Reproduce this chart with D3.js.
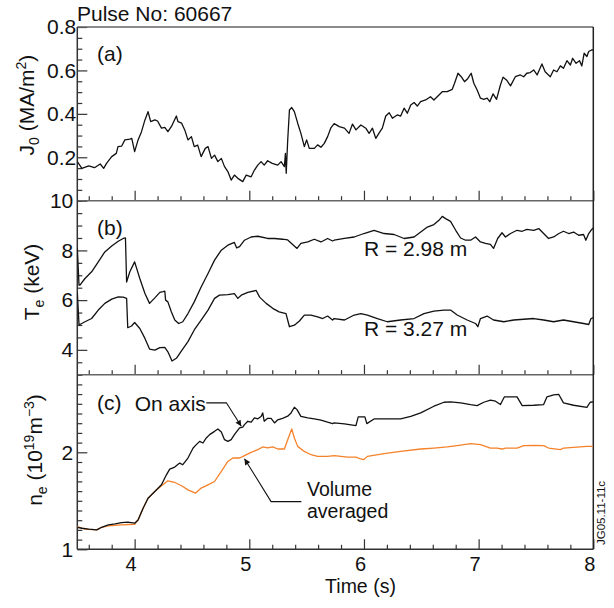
<!DOCTYPE html>
<html>
<head>
<meta charset="utf-8">
<script src="https://cdn.jsdelivr.net/npm/d3@7"></script>
<style>
html,body{margin:0;padding:0;background:#fff;}
svg text{font-family:"Liberation Sans",Arial,Helvetica,sans-serif;fill:#111;}
</style>
</head>
<body>
<svg id="chart" width="614" height="608"></svg>
<script>
// ---------- DATA ----------
const xTickLabels = [4, 5, 6, 7, 8];
const j0TickLabels = [0.2, 0.4, 0.6, 0.8];
const teTickLabels = [4, 6, 8, 10];
const neTickLabels = [1, 2];

// (a) central current density J0 (MA/m^2)
const j0Time = [3.50,3.54,3.60,3.65,3.70,3.73,3.755,3.80,3.84,3.855,3.886,3.915,3.958,3.975,4.00,4.03,4.06,4.09,4.117,4.14,4.176,4.20,4.234,4.263,4.29,4.32,4.364,4.378,4.41,4.437,4.465,4.495,4.52,4.55,4.58,4.616,4.64,4.67,4.697,4.726,4.756,4.784,4.813,4.842,4.87,4.90,4.943,4.973,5.016,5.045,5.074,5.103,5.13,5.16,5.20,5.248,5.277,5.306,5.315,5.322,5.335,5.35,5.37,5.393,5.422,5.45,5.48,5.50,5.523,5.567,5.596,5.625,5.654,5.683,5.71,5.74,5.785,5.83,5.87,5.90,5.93,5.973,6.016,6.045,6.074,6.103,6.13,6.16,6.19,6.22,6.248,6.29,6.32,6.35,6.378,6.408,6.437,6.465,6.494,6.538,6.58,6.61,6.654,6.683,6.726,6.77,6.79,6.82,6.848,6.877,6.906,6.935,6.958,6.987,7.016,7.045,7.074,7.097,7.126,7.156,7.19,7.213,7.243,7.278,7.32,7.364,7.393,7.42,7.45,7.48,7.51,7.552,7.58,7.625,7.654,7.683,7.713,7.74,7.77,7.80,7.82,7.85,7.88,7.90,7.92,7.944,7.96,7.985,8.0];
const j0Vals = [0.18,0.149,0.16,0.152,0.169,0.149,0.172,0.203,0.218,0.249,0.251,0.28,0.284,0.287,0.226,0.28,0.318,0.372,0.41,0.364,0.372,0.367,0.334,0.338,0.318,0.341,0.39,0.364,0.357,0.326,0.28,0.295,0.249,0.256,0.203,0.241,0.249,0.195,0.21,0.18,0.195,0.157,0.134,0.095,0.118,0.103,0.088,0.118,0.11,0.141,0.164,0.18,0.164,0.184,0.172,0.164,0.18,0.157,0.218,0.126,0.28,0.418,0.429,0.41,0.357,0.31,0.249,0.28,0.241,0.241,0.257,0.246,0.264,0.295,0.334,0.355,0.341,0.334,0.31,0.353,0.326,0.349,0.334,0.31,0.334,0.287,0.31,0.334,0.39,0.405,0.38,0.395,0.39,0.426,0.403,0.441,0.452,0.436,0.456,0.464,0.479,0.464,0.487,0.502,0.502,0.513,0.541,0.587,0.571,0.548,0.563,0.587,0.541,0.51,0.472,0.467,0.472,0.456,0.492,0.467,0.533,0.569,0.556,0.529,0.571,0.579,0.571,0.587,0.59,0.602,0.579,0.63,0.594,0.571,0.602,0.594,0.621,0.61,0.645,0.625,0.656,0.633,0.645,0.621,0.679,0.664,0.687,0.694,0.695];

// (b) electron temperature Te (keV) at R = 2.98 m
const te298Time = [3.50,3.515,3.523,3.567,3.625,3.683,3.74,3.80,3.857,3.90,3.92,3.93,3.958,4.00,4.045,4.09,4.13,4.176,4.22,4.248,4.263,4.27,4.29,4.32,4.35,4.384,4.42,4.465,4.52,4.58,4.64,4.697,4.756,4.813,4.87,4.89,4.915,4.958,5.016,5.074,5.16,5.22,5.29,5.335,5.378,5.416,5.45,5.51,5.567,5.625,5.683,5.726,5.74,5.83,5.915,6.0,6.088,6.176,6.263,6.35,6.437,6.495,6.553,6.61,6.654,6.683,6.712,6.755,6.80,6.843,6.886,6.93,6.973,7.016,7.06,7.103,7.13,7.166,7.204,7.234,7.278,7.335,7.38,7.42,7.48,7.524,7.567,7.61,7.654,7.70,7.74,7.785,7.828,7.872,7.915,7.935,7.96,7.98,8.0];
const te298Vals = [8.1,6.6,6.6,6.87,7.14,7.54,7.94,8.18,8.37,8.48,8.5,6.73,7.14,7.54,6.87,6.27,5.87,6.09,6.31,6.34,6.36,6.0,5.93,5.53,5.2,5.06,5.13,5.46,5.93,6.53,7.07,7.61,8.01,8.21,8.32,8.1,8.15,8.41,8.54,8.57,8.48,8.48,8.45,8.42,8.24,8.08,8.28,8.34,8.45,8.34,8.48,8.38,8.41,8.48,8.54,8.68,8.81,8.68,8.64,8.48,8.54,8.74,8.94,9.04,9.21,9.37,9.28,9.17,8.81,8.5,8.41,8.41,8.54,8.34,8.28,8.24,8.08,8.48,8.71,8.54,8.68,8.81,8.77,8.85,8.81,8.88,8.68,8.48,8.54,8.68,8.77,8.68,8.74,8.61,8.64,8.41,8.68,8.81,8.9];

// (b) electron temperature Te (keV) at R = 3.27 m
const te327Time = [3.50,3.515,3.523,3.567,3.625,3.683,3.74,3.80,3.857,3.90,3.93,3.94,3.973,4.00,4.045,4.09,4.13,4.176,4.22,4.263,4.29,4.326,4.364,4.41,4.465,4.52,4.58,4.64,4.697,4.74,4.813,4.87,4.90,4.93,4.987,5.06,5.09,5.147,5.204,5.26,5.32,5.35,5.393,5.437,5.48,5.538,5.596,5.64,5.683,5.726,5.74,5.83,5.915,5.973,6.03,6.117,6.204,6.32,6.437,6.523,6.61,6.698,6.755,6.813,6.90,6.973,6.993,7.016,7.074,7.13,7.22,7.306,7.393,7.48,7.567,7.654,7.74,7.828,7.915,7.96,7.98,8.0];
const te327Vals = [6.31,5.02,5.02,5.13,5.26,5.6,5.87,6.04,6.13,6.12,6.07,4.89,4.96,5.1,4.86,4.46,4.03,3.99,4.09,4.1,3.92,3.55,3.66,3.97,4.33,4.8,5.2,5.6,6.07,6.2,6.22,6.26,6.07,6.2,6.31,6.39,6.12,5.87,5.67,5.53,5.46,4.93,4.99,5.16,5.4,5.4,5.33,5.26,5.36,5.2,5.26,5.2,5.4,5.46,5.4,5.26,5.13,5.2,5.26,5.46,5.56,5.6,5.6,5.4,5.2,5.06,4.93,5.26,5.36,5.2,5.13,5.2,5.23,5.26,5.2,5.13,5.2,5.13,5.06,5.02,5.26,5.3];

// (c) electron density ne (10^19 m^-3), on axis
const neAxisTime = [3.50,3.54,3.60,3.67,3.712,3.77,3.83,3.886,3.94,4.00,4.03,4.074,4.117,4.176,4.234,4.277,4.306,4.35,4.393,4.42,4.465,4.51,4.538,4.567,4.596,4.625,4.654,4.697,4.726,4.756,4.784,4.813,4.842,4.87,4.915,4.943,4.958,4.987,5.016,5.045,5.074,5.103,5.117,5.13,5.16,5.19,5.22,5.248,5.29,5.335,5.364,5.393,5.416,5.45,5.51,5.567,5.625,5.683,5.726,5.74,5.83,5.93,5.95,6.008,6.025,6.088,6.176,6.32,6.408,6.495,6.61,6.698,6.755,6.843,6.93,6.987,7.045,7.103,7.147,7.19,7.225,7.25,7.335,7.38,7.48,7.567,7.596,7.654,7.698,7.74,7.828,7.944,7.973,8.0];
const neAxisVals = [1.227,1.217,1.207,1.2,1.227,1.251,1.262,1.275,1.28,1.269,1.303,1.424,1.527,1.596,1.665,1.768,1.827,1.848,1.889,1.872,1.941,2.044,2.079,2.113,2.096,2.148,2.182,2.216,2.241,2.21,2.13,2.113,2.13,2.182,2.251,2.26,2.285,2.32,2.31,2.355,2.345,2.37,2.406,2.32,2.35,2.35,2.303,2.335,2.35,2.372,2.406,2.464,2.44,2.371,2.355,2.345,2.332,2.31,2.296,2.303,2.293,2.275,2.365,2.365,2.296,2.344,2.344,2.344,2.371,2.406,2.475,2.516,2.52,2.51,2.492,2.482,2.516,2.537,2.527,2.492,2.572,2.572,2.572,2.482,2.485,2.492,2.572,2.592,2.598,2.51,2.485,2.464,2.516,2.52];

// (c) electron density ne (10^19 m^-3), volume averaged
const neVolTime = [3.50,3.567,3.67,3.712,3.77,3.886,4.00,4.03,4.074,4.117,4.176,4.234,4.29,4.35,4.41,4.465,4.53,4.58,4.64,4.697,4.756,4.813,4.857,4.915,4.958,5.016,5.074,5.117,5.16,5.204,5.248,5.306,5.335,5.37,5.393,5.422,5.48,5.538,5.596,5.683,5.74,5.857,5.93,5.973,5.996,6.03,6.176,6.32,6.495,6.61,6.726,6.843,6.93,7.016,7.103,7.16,7.204,7.234,7.335,7.393,7.48,7.567,7.61,7.713,7.74,7.828,7.944,8.0];
const neVolVals = [1.234,1.207,1.2,1.227,1.241,1.251,1.258,1.303,1.424,1.527,1.596,1.655,1.706,1.689,1.655,1.613,1.579,1.631,1.665,1.699,1.803,1.906,1.941,1.941,1.965,1.999,2.027,2.055,2.045,2.055,2.034,2.034,2.13,2.241,2.148,2.061,2.009,1.975,1.958,1.958,1.965,1.951,1.951,1.931,1.924,1.958,1.986,2.009,2.034,2.044,2.055,2.075,2.089,2.079,2.044,2.044,2.034,2.044,2.044,2.068,2.072,2.068,2.044,2.027,2.044,2.051,2.061,2.061];

// ---------- LAYOUT ----------
const svg = d3.select("#chart");
const x = d3.scaleLinear().domain([3.5, 8]).range([77.3, 593.3]);
const yA = d3.scaleLinear().domain([0, 0.8]).range([200.7, 27]);
const yB = d3.scaleLinear().domain([3, 10]).range([374.7, 200.7]);
const yC = d3.scaleLinear().domain([1, 2.8]).range([549.3, 374.7]);

const FS = 21;
const axisColor = "#333";
const frameColor = "#666";

function zip(t, v) { return t.map((d, i) => [d, v[i]]); }

function panel(y, majorLabels, minorStep, fmt, labelPad) {
  const [y0, y1] = y.domain();
  const minor = d3.range(y0, y1 + 1e-9, minorStep).map(d => +d.toFixed(3))
    .filter(d => !majorLabels.some(m => Math.abs(m - d) < 1e-6));
  const xMinor = d3.range(3.6, 8.0, 0.2).map(d => +d.toFixed(2))
    .filter(d => !xTickLabels.some(m => Math.abs(m - d) < 1e-6));
  const gp = svg.append("g");
  gp.append("g").attr("transform", `translate(${x.range()[0]},0)`)
    .call(d3.axisLeft(y).tickValues(minor).tickSize(-5).tickSizeOuter(0).tickFormat(""))
    .call(g => g.select(".domain").remove())
    .call(g => g.selectAll("line").attr("stroke", axisColor).attr("stroke-width", 1.2));
  gp.append("g").attr("transform", `translate(${x.range()[0]},0)`)
    .call(d3.axisLeft(y).tickValues(majorLabels).tickSize(-10).tickSizeOuter(0).tickPadding(labelPad).tickFormat(fmt))
    .call(g => g.select(".domain").remove())
    .call(g => g.selectAll("line").attr("stroke", axisColor).attr("stroke-width", 1.2))
    .call(g => g.selectAll("text").attr("font-size", FS).attr("fill", "#111")
      .attr("font-family", '"Liberation Sans",Arial,sans-serif'));
  gp.append("g").attr("transform", `translate(0,${y.range()[0]})`)
    .call(d3.axisBottom(x).tickValues(xMinor).tickSize(-4.5).tickSizeOuter(0).tickFormat(""))
    .call(g => g.select(".domain").remove())
    .call(g => g.selectAll("line").attr("stroke", axisColor).attr("stroke-width", 1.2));
  gp.append("g").attr("transform", `translate(0,${y.range()[0]})`)
    .call(d3.axisBottom(x).tickValues(xTickLabels).tickSize(-10).tickSizeOuter(0).tickFormat(""))
    .call(g => g.select(".domain").remove())
    .call(g => g.selectAll("line").attr("stroke", axisColor).attr("stroke-width", 1.2));
}

panel(yA, j0TickLabels, 0.05, d3.format(".1f"), 1);
panel(yB, teTickLabels, 0.5, d3.format("d"), 4);
panel(yC, neTickLabels, 0.1, d3.format("d"), 4);

// frame lines
const [xl, xr] = x.range();
svg.append("line").attr("x1", xl).attr("x2", xr).attr("y1", yA.range()[1]).attr("y2", yA.range()[1])
  .attr("stroke", frameColor).attr("stroke-width", 1.5);
[yA.range()[0], yB.range()[0], yC.range()[0]].forEach(yy => {
  svg.append("line").attr("x1", xl).attr("x2", xr).attr("y1", yy).attr("y2", yy)
    .attr("stroke", yy === yC.range()[0] ? axisColor : frameColor).attr("stroke-width", 1.5);
});
svg.append("line").attr("x1", xl).attr("x2", xl).attr("y1", yA.range()[1]).attr("y2", yC.range()[0])
  .attr("stroke", axisColor).attr("stroke-width", 1.5);
svg.append("line").attr("x1", xr).attr("x2", xr).attr("y1", yA.range()[1]).attr("y2", yC.range()[0])
  .attr("stroke", "#222").attr("stroke-width", 1.5);

// x tick labels
svg.append("g").selectAll("text").data(xTickLabels).join("text")
  .attr("x", d => x(d) - 3.5).attr("y", 571).attr("text-anchor", "middle")
  .attr("font-size", 20).text(d => d);
svg.append("text").attr("x", 360.5).attr("y", 593).attr("text-anchor", "middle")
  .attr("font-size", 19.5).text("Time (s)");

// data lines
const clipId = "plotclip";
svg.append("clipPath").attr("id", clipId).append("rect")
  .attr("x", xl).attr("y", yA.range()[1]).attr("width", xr - xl).attr("height", yC.range()[0] - yA.range()[1]);
function drawLine(t, v, y, color) {
  svg.append("path").datum(zip(t, v))
    .attr("clip-path", `url(#${clipId})`)
    .attr("fill", "none").attr("stroke", color).attr("stroke-width", 1.3)
    .attr("stroke-linejoin", "round")
    .attr("d", d3.line().x(d => x(d[0])).y(d => y(d[1])));
}
drawLine(j0Time, j0Vals, yA, "#111");
drawLine(te298Time, te298Vals, yB, "#111");
drawLine(te327Time, te327Vals, yB, "#111");
drawLine(neVolTime, neVolVals, yC, "#f5822a");
drawLine(neAxisTime, neAxisVals, yC, "#111");

// title and panel letters
svg.append("text").attr("x", 77).attr("y", 20.5).attr("font-size", FS).text("Pulse No: 60667");
svg.append("text").attr("x", 97).attr("y", 61).attr("font-size", FS).text("(a)");
svg.append("text").attr("x", 97).attr("y", 235).attr("font-size", FS).text("(b)");
svg.append("text").attr("x", 97).attr("y", 410).attr("font-size", FS).text("(c)");

// y-axis titles
const t1 = svg.append("text").attr("transform", "translate(34,105) rotate(-90)")
  .attr("text-anchor", "middle").attr("font-size", FS);
t1.append("tspan").text("J");
t1.append("tspan").attr("font-size", 14).attr("dy", 5).text("0");
t1.append("tspan").attr("dy", -5).text(" (MA/m");
t1.append("tspan").attr("font-size", 14).attr("dy", -8).text("2");
t1.append("tspan").attr("dy", 8).text(")");

const t2 = svg.append("text").attr("transform", "translate(39,282) rotate(-90)")
  .attr("text-anchor", "middle").attr("font-size", FS);
t2.append("tspan").text("T");
t2.append("tspan").attr("font-size", 14).attr("dy", 5).text("e");
t2.append("tspan").attr("dy", -5).text(" (keV)");

const t3 = svg.append("text").attr("transform", "translate(42,450) rotate(-90)")
  .attr("text-anchor", "middle").attr("font-size", FS);
t3.append("tspan").text("n");
t3.append("tspan").attr("font-size", 14).attr("dy", 5).text("e");
t3.append("tspan").attr("dy", -5).text(" (10");
t3.append("tspan").attr("font-size", 14).attr("dy", -8).text("19");
t3.append("tspan").attr("dy", 8).text("m");
t3.append("tspan").attr("font-size", 14).attr("dy", -8).text("−3");
t3.append("tspan").attr("dy", 8).text(")");

// annotations
svg.append("text").attr("x", x(6.0)).attr("y", yB(8.0) + 6).attr("font-size", FS).text("R = 2.98 m");
svg.append("text").attr("x", x(6.0)).attr("y", yB(4.7) + 4).attr("font-size", FS).text("R = 3.27 m");
svg.append("text").attr("x", x(4.0)).attr("y", 411).attr("font-size", FS).text("On axis");
svg.append("text").attr("x", 307).attr("y", 496).attr("font-size", 19.5).text("Volume");
svg.append("text").attr("x", 307).attr("y", 518).attr("font-size", 19.5).text("averaged");

svg.append("defs").append("marker").attr("id", "ah")
  .attr("viewBox", "0 0 10 10").attr("refX", 10).attr("refY", 5)
  .attr("markerWidth", 8).attr("markerHeight", 6).attr("markerUnits", "userSpaceOnUse")
  .attr("orient", "auto")
  .append("path").attr("d", "M0,0 L10,5 L0,10 z").attr("fill", "#111");

const arrowLine = d3.line().x(d => x(d[0])).y(d => yC(d[1]));
const onAxisArrow = [[4.625, 2.51], [4.80, 2.51], [4.93, 2.268]];
const volArrow = [[5.454, 1.492], [5.19, 1.492], [4.958, 1.934]];
[onAxisArrow, volArrow].forEach(a => {
  svg.append("path").datum(a).attr("d", arrowLine).attr("fill", "none")
    .attr("stroke", "#111").attr("stroke-width", 1.1).attr("marker-end", "url(#ah)");
});

// figure reference code
svg.append("text").attr("transform", "translate(604.5,513) rotate(-90)")
  .attr("text-anchor", "middle").attr("font-size", 11.5).text("JG05.11-11c");
</script>
</body>
</html>
